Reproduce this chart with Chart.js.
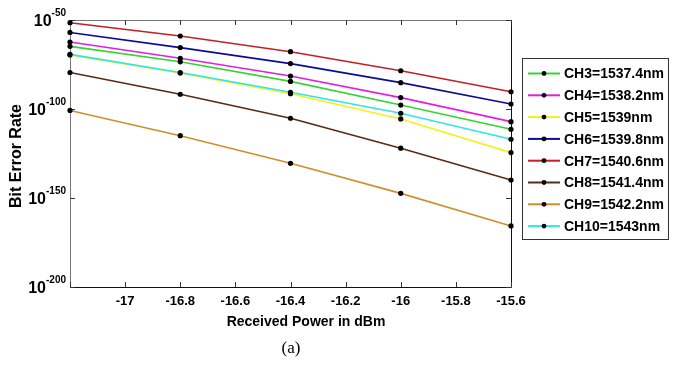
<!DOCTYPE html>
<html lang="en">
<head>
    <meta charset="UTF-8">
    <title>BER vs Received Power</title>
    <script src="https://cdn.jsdelivr.net/npm/chart.js"></script>
    <style>
        html, body {
            margin: 0;
            padding: 0;
            background: #fff;
        }
        .chart-box {
            position: relative;
            width: 676px;
            height: 365px;
        }
    </style>
</head>
<body>
    <div class="chart-box">
        <canvas id="berChart"></canvas>
    </div>

    <script>
        // received power (dBm) on the x axis
        const powerDbm = [-17.2, -16.8, -16.4, -16, -15.6];

        // BER, stored as log10(BER)
        const ch3 = [-64.8, -73.5, -84.5, -97.8, -111.4];
        const ch4 = [-62.4, -71.5, -81.5, -93.6, -107.1];
        const ch5 = [-69.6, -79.8, -91.4, -105.6, -124.5];
        const ch6 = [-57.0, -65.5, -74.5, -85.2, -97.2];
        const ch7 = [-51.5, -59.0, -67.8, -78.5, -90.3];
        const ch8 = [-79.5, -91.7, -105.2, -122.0, -139.9];
        const ch9 = [-100.8, -115.0, -130.5, -147.4, -165.7];
        const ch10 = [-69.3, -79.5, -90.6, -102.4, -117.0];

        const channelNames = ['CH3=1537.4nm', 'CH4=1538.2nm', 'CH5=1539nm', 'CH6=1539.8nm',
                              'CH7=1540.6nm', 'CH8=1541.4nm', 'CH9=1542.2nm', 'CH10=1543nm'];
        const channelColors = ['#33d433', '#e21ee2', '#f2f21e', '#0c0c96',
                               '#c41f25', '#5b2a12', '#cf8f2c', '#2ee6e6'];

        // y tick exponents (labels are 10^exp)
        const yTickExps = [-50, -100, -150, -200];

        const fontFamily = 'Arial, "Liberation Sans", sans-serif';
        const allSeries = [ch3, ch4, ch5, ch6, ch7, ch8, ch9, ch10];

        const datasets = allSeries.map((series, i) => ({
            label: channelNames[i],
            data: powerDbm.map((x, j) => ({ x: x, y: series[j] })),
            borderColor: channelColors[i],
            borderWidth: 1.6,
            pointRadius: 2.6,
            pointBackgroundColor: '#000',
            pointBorderColor: '#000',
            pointBorderWidth: 0,
            clip: false,
            // cyan sits on top of yellow where they overlap
            order: i === 7 ? -1 : 0
        }));

        // frame + inward ticks, like a MATLAB axes box
        const framePlugin = {
            id: 'frame',
            beforeDatasetsDraw(chart) {
                const ctx = chart.ctx;
                const a = chart.chartArea;
                const xs = chart.scales.x;
                const ys = chart.scales.y;
                ctx.save();
                ctx.lineWidth = 1;
                ctx.strokeStyle = '#777';
                ctx.beginPath();
                ctx.moveTo(a.left + 0.5, a.bottom);
                ctx.lineTo(a.left + 0.5, a.top + 0.5);
                ctx.lineTo(a.right, a.top + 0.5);
                ctx.stroke();
                ctx.strokeStyle = '#111';
                ctx.beginPath();
                ctx.moveTo(a.right + 0.5, a.top);
                ctx.lineTo(a.right + 0.5, a.bottom + 0.5);
                ctx.lineTo(a.left, a.bottom + 0.5);
                ctx.stroke();

                ctx.strokeStyle = '#333';
                ctx.beginPath();
                xs.ticks.forEach(t => {
                    const px = Math.round(xs.getPixelForValue(t.value)) + 0.5;
                    ctx.moveTo(px, a.bottom);
                    ctx.lineTo(px, a.bottom - 5);
                    ctx.moveTo(px, a.top);
                    ctx.lineTo(px, a.top + 5);
                });
                yTickExps.forEach(v => {
                    const py = Math.round(ys.getPixelForValue(v)) + 0.5;
                    ctx.moveTo(a.left, py);
                    ctx.lineTo(a.left + 5, py);
                    ctx.moveTo(a.right, py);
                    ctx.lineTo(a.right - 5, py);
                });
                ctx.stroke();
                ctx.restore();
            },
            afterDraw(chart) {
                const ctx = chart.ctx;
                const ys = chart.scales.y;
                ctx.save();
                ctx.fillStyle = '#000';

                // y tick labels 10^exp
                yTickExps.forEach(v => {
                    const py = ys.getPixelForValue(v);
                    ctx.font = 'bold 10px ' + fontFamily;
                    ctx.textAlign = 'left';
                    ctx.textBaseline = 'alphabetic';
                    const expText = String(v);
                    const expW = ctx.measureText(expText).width;
                    const expX = 66 - expW;
                    ctx.fillText(expText, expX, py - 4);
                    ctx.font = 'bold 16px ' + fontFamily;
                    ctx.textAlign = 'right';
                    ctx.fillText('10', expX, py + 6);
                });

                // axis titles
                ctx.font = 'bold 14px ' + fontFamily;
                ctx.textAlign = 'center';
                ctx.textBaseline = 'middle';
                ctx.fillText('Received Power in dBm', 306, 322);
                ctx.save();
                ctx.translate(17, 156);
                ctx.rotate(-Math.PI / 2);
                ctx.font = 'bold 16px ' + fontFamily;
                ctx.fillText('Bit Error Rate', 0, 0);
                ctx.restore();

                ctx.font = '17px "Liberation Serif", "Times New Roman", serif';
                ctx.fillText('(a)', 291, 349);

                // legend box
                const boxL = 522.5, boxT = 58.5, boxW = 146, boxH = 181;
                ctx.fillStyle = '#fff';
                ctx.fillRect(boxL, boxT, boxW, boxH);
                ctx.strokeStyle = '#333';
                ctx.lineWidth = 1;
                ctx.strokeRect(boxL, boxT, boxW, boxH);
                chart.data.datasets.forEach((ds, i) => {
                    const cy = 73.5 + i * 21.8;
                    ctx.strokeStyle = ds.borderColor;
                    ctx.lineWidth = 2;
                    ctx.beginPath();
                    ctx.moveTo(528, cy);
                    ctx.lineTo(560, cy);
                    ctx.stroke();
                    ctx.fillStyle = '#000';
                    ctx.beginPath();
                    ctx.arc(544, cy, 2.4, 0, Math.PI * 2);
                    ctx.fill();
                    ctx.font = 'bold 14px ' + fontFamily;
                    ctx.textAlign = 'left';
                    ctx.textBaseline = 'middle';
                    ctx.fillText(ds.label, 564, cy + 1);
                });
                ctx.restore();
            }
        };

        const ctx = document.getElementById('berChart').getContext('2d');
        const berChart = new Chart(ctx, {
            type: 'line',
            data: { datasets: datasets },
            options: {
                responsive: true,
                maintainAspectRatio: false,
                animation: false,
                layout: {
                    padding: { top: 20, right: 165, bottom: 0, left: 0 }
                },
                scales: {
                    x: {
                        type: 'linear',
                        min: -17.2,
                        max: -15.6,
                        grid: { display: false, drawTicks: false },
                        border: { display: false },
                        ticks: {
                            stepSize: 0.2,
                            color: '#000',
                            padding: 7,
                            maxRotation: 0,
                            autoSkip: false,
                            font: { family: fontFamily, size: 13, weight: 'bold' },
                            callback: function(value) {
                                if (Math.abs(value + 17.2) < 1e-6) return '';
                                return String(Math.round(value * 10) / 10);
                            }
                        },
                        afterFit: function(scale) { scale.height = 78; }
                    },
                    y: {
                        type: 'linear',
                        min: -200,
                        max: -50,
                        grid: { display: false, drawTicks: false },
                        border: { display: false },
                        ticks: { display: false, stepSize: 50 },
                        afterFit: function(scale) { scale.width = 70; }
                    }
                },
                plugins: {
                    legend: { display: false },
                    tooltip: { enabled: false }
                }
            },
            plugins: [framePlugin]
        });
    </script>
</body>
</html>
